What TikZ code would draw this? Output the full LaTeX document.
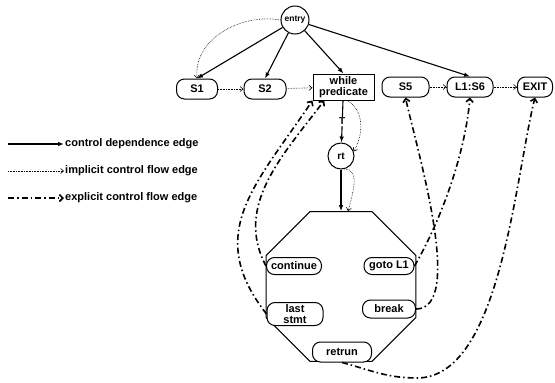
\documentclass[tikz,border=0pt]{standalone}
\usepackage{fontspec}
\setmainfont{Liberation Sans}
\usetikzlibrary{arrows.meta,shapes.geometric}
\tikzset{
  stmt/.style={draw,line width=1pt,rounded corners=8pt,fill=white,inner sep=1pt,
    minimum height=20pt,align=center,font=\fontsize{11}{10.5}\selectfont\bfseries},
  cdep/.style={line width=1.1pt,-{Latex[length=6pt,width=4.5pt]}},
  icf/.style={line width=0.6pt,densely dotted,-{Straight Barb[length=3pt,width=5pt]}},
  ecf/.style={line width=1.6pt,dash pattern=on 6pt off 3pt on 1.5pt off 3pt,
    -{Straight Barb[length=3.5pt,width=7pt]}},
  legend/.style={anchor=west,inner sep=1pt,font=\fontsize{11}{12}\selectfont\bfseries}
}
\begin{document}
\begin{tikzpicture}[x=1pt,y=1pt]
  \useasboundingbox (0,0) rectangle (555,-383);
  \node[draw,circle,line width=1pt,minimum size=28pt,inner sep=0pt,
    font=\fontsize{8.5}{8.5}\selectfont\bfseries] (entry) at (295,-20) {entry};
  \node[stmt,minimum width=41pt] (s1) at (197,-89) {S1};
  \node[stmt,minimum width=42pt] (s2) at (265,-89) {S2};
  \node[stmt,sharp corners,minimum width=61pt,minimum height=26pt] (wp) at (343.5,-87) {while\\predicate};
  \node[stmt,minimum width=47pt] (s5) at (405.5,-87) {S5};
  \node[stmt,minimum width=46pt] (l1) at (470,-87) {L1:S6};
  \node[stmt,minimum width=35pt] (exit) at (535,-87) {EXIT};
  \node[draw,circle,line width=1pt,minimum size=26pt,inner sep=0pt,
    font=\fontsize{10}{10}\selectfont\bfseries] (rt) at (341,-156) {rt};
  \node[draw,regular polygon,regular polygon sides=8,minimum size=162pt,inner sep=0pt,
    line width=1pt] (blk) at (341,-286.5) {};
  \node[stmt,minimum width=55pt,minimum height=17pt] (cont) at (294,-266) {continue};
  \node[stmt,minimum width=50pt,minimum height=17pt] (goto) at (389,-266) {goto L1};
  \node[stmt,minimum width=56pt,minimum height=23pt] (last) at (295,-314) {last\\stmt};
  \node[stmt,minimum width=53pt,minimum height=18pt] (brk) at (389,-309) {break};
  \node[stmt,minimum width=59pt] (ret) at (342,-352) {retrun};

  \node[legend] (lcd) at (64,-144) {control dependence edge};
  \node[legend] (lic) at (64,-171) {implicit control flow edge};
  \node[legend] (lec) at (64,-198) {explicit control flow edge};
  \coordinate (lcd0) at (8,-144);
  \coordinate (lic0) at (8,-171);
  \coordinate (lec0) at (8,-198);

  \begin{scope}[cdep]
    \draw (entry) to (s1.north);
    \draw (entry) to (s2.north);
    \draw (entry) to (wp.north);
    \draw (entry) to (l1.north);
    \draw (wp) to node[fill=white,inner sep=1pt,font=\fontsize{10}{10}\selectfont\bfseries] {T} (rt);
    \draw (rt) to (blk.north);
    \draw (lcd0) to (lcd);
  \end{scope}
  \begin{scope}[icf]
    \draw (entry.west) to[out=170,in=95] (s1.north);
    \draw (s1) to (s2);
    \draw (s2) to (wp);
    \draw (s5) to (l1);
    \draw (l1) to (exit);
    \draw (wp.-75) to[out=-30,in=60] (rt.20);
    \draw (rt.-75) to[out=0,in=75] ([xshift=7pt]blk.north);
    \draw (lic0) to (lic);
  \end{scope}
  \begin{scope}[ecf]
    \draw (cont.west) to[out=118,in=233] (wp.-145);
    \draw (last.west) to[out=128,in=236,looseness=1.2] (wp.south west);
    \draw (goto.east) to[out=60,in=-95,looseness=0.8] (l1.south);
    \draw (brk.east) to[out=0,in=-78,looseness=0.6] (s5.south);
    \draw (ret.south) to[out=-15,in=180] (417,-378) to[out=0,in=-104,looseness=0.7] (exit.south);
    \draw (lec0) to (lec);
  \end{scope}
\end{tikzpicture}
\end{document}
